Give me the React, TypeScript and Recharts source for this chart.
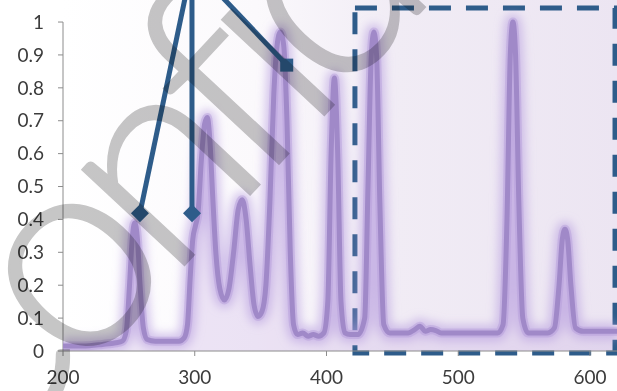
import React from "react";
import {
  ComposedChart,
  Line,
  Area,
  XAxis,
  YAxis,
  ReferenceArea,
  ReferenceLine
} from "recharts";

// spectrum (wavelength in nm, relative intensity)
const wavelength = [
  200, 215, 230, 240, 245, 248, 250.5, 252.5, 254.5, 256.5, 258.5, 261, 264, 270, 280, 288, 292,
  294.5, 296.5, 298.5, 300.5, 302.5, 305, 307.5, 309.5, 311.5, 313.5, 316, 319, 322.5, 326, 329.5,
  333, 336, 339, 342, 345, 348, 351, 354, 357, 360, 362.5, 365, 367.5, 370, 372.5, 375, 378, 382,
  386, 390, 394, 398, 401, 403.5, 406, 408.5, 411, 414, 418, 424, 429, 431.5, 434, 436, 438, 440.5,
  443.5, 448, 455, 462, 467, 471, 475, 479, 483, 487, 492, 500, 515, 530, 534, 537, 539.5, 541.5,
  543.5, 546, 549, 553, 560, 568, 573, 576.5, 579, 581, 583, 585.5, 589, 595, 605, 620.5
];
const intensity = [
  0.015, 0.015, 0.02, 0.025, 0.03, 0.06, 0.2, 0.34, 0.39, 0.34, 0.2, 0.07, 0.035, 0.03, 0.03, 0.03, 0.04,
  0.08, 0.22, 0.34, 0.38, 0.42, 0.58, 0.69, 0.71, 0.64, 0.48, 0.3, 0.19, 0.155, 0.19, 0.3,
  0.43, 0.46, 0.4, 0.26, 0.14, 0.105, 0.12, 0.2, 0.45, 0.78, 0.93, 0.97, 0.93, 0.7, 0.3, 0.08, 0.05, 0.055,
  0.045, 0.05, 0.045, 0.055, 0.15, 0.6, 0.83, 0.6, 0.15, 0.055, 0.05, 0.05, 0.1, 0.5, 0.9, 0.97, 0.9, 0.45,
  0.08, 0.055, 0.055, 0.055, 0.065, 0.075, 0.06, 0.065, 0.062, 0.055, 0.055, 0.055, 0.055, 0.055, 0.08, 0.4, 0.9, 1.0,
  0.9, 0.45, 0.1, 0.055, 0.055, 0.055, 0.07, 0.2, 0.34, 0.37, 0.34, 0.2, 0.07, 0.06, 0.06, 0.06
];

const xTicks = [200, 300, 400, 500, 600];
const yTicks = [0, 0.1, 0.2, 0.3, 0.4, 0.5, 0.6, 0.7, 0.8, 0.9, 1];

// pointer lines meet above the top edge
const pointerApex = { x: 297.9, y: 1.173 };
const pointerTips = [
  { x: 258.4, y: 0.419, mark: "diamond" },
  { x: 297.9, y: 0.419, mark: "diamond" },
  { x: 369.8, y: 0.869, mark: "square" }
];

// dashed box around the right part
const boxX = [421.6, 619];
const boxY = [-0.006, 1.043];

const watermark = "Confidential";

const spectrum = wavelength.map((x, i) => ({ x, y: intensity[i] }));

const BLUE = "#2e5c8a";
const AXIS = "#8c8c8c";

const tipDot = (mark: string) => (props: any) => {
  const { cx, cy, index } = props;
  if (index !== 0 || cx == null) return <g key={`d${index}`} />;
  if (mark === "square")
    return <rect key={`d${index}`} x={cx - 6.5} y={cy - 6.5} width={13} height={13} fill={BLUE} />;
  return (
    <path
      key={`d${index}`}
      d={`M${cx},${cy - 9}L${cx + 9},${cy}L${cx},${cy + 9}L${cx - 9},${cy}Z`}
      fill={BLUE}
    />
  );
};

export default function App() {
  const tick = { fontSize: 19, fill: "#3c3c3c", fontFamily: "Lato, 'Open Sans', sans-serif" };
  return (
    <div style={{ position: "absolute", left: 0, top: 0, width: 617, height: 391, background: "#fff" }}>
      <div
        style={{
          position: "absolute",
          left: 63,
          top: 0,
          width: 554,
          height: 351,
          background:
            "linear-gradient(90deg, #ffffff 0%, #fbf9fc 35%, #f1ecf5 60%, #ece5f2 100%)"
        }}
      />
      <ComposedChart
        width={617}
        height={391}
        data={spectrum}
        margin={{ top: 0, right: 0, left: 0, bottom: 0 }}
        style={{ position: "absolute", left: 0, top: 0 }}
      >
        <defs>
          <filter id="glow" x="-20%" y="-20%" width="140%" height="140%">
            <feGaussianBlur stdDeviation="5" />
          </filter>
        </defs>
        <XAxis
          dataKey="x"
          type="number"
          domain={[200, 620.5]}
          allowDataOverflow
          ticks={xTicks}
          height={40}
          tickSize={5}
          tickMargin={15}
          stroke={AXIS}
          tick={tick}
        />
        <YAxis
          type="number"
          domain={[0, 1.067]}
          allowDataOverflow
          ticks={yTicks}
          width={63}
          tickSize={5}
          tickMargin={14}
          axisLine={false}
          stroke={AXIS}
          tick={tick}
        />
        <ReferenceLine
          segment={[{ x: 200, y: 0 }, { x: 200, y: 1 }]}
          stroke={AXIS}
          ifOverflow="visible"
        />
        <Area
          dataKey="y"
          type="monotone"
          stroke="none"
          fill="#cdb8e6"
          fillOpacity={0.35}
          isAnimationActive={false}
        />
        <Line
          dataKey="y"
          type="monotone"
          stroke="#b89fe0"
          strokeWidth={16}
          strokeOpacity={0.6}
          strokeLinejoin="round"
          filter="url(#glow)"
          dot={false}
          isAnimationActive={false}
        />
        <Line
          dataKey="y"
          type="monotone"
          stroke="#b49bd9"
          strokeWidth={9}
          strokeOpacity={0.45}
          strokeLinejoin="round"
          dot={false}
          isAnimationActive={false}
        />
        <Line
          dataKey="y"
          type="monotone"
          stroke="#a089c8"
          strokeWidth={5}
          strokeLinejoin="round"
          dot={false}
          isAnimationActive={false}
        />
        <ReferenceArea
          x1={boxX[0]}
          x2={boxX[1]}
          y1={boxY[0]}
          y2={boxY[1]}
          fill="none"
          stroke={BLUE}
          strokeWidth={5}
          strokeDasharray="22 15"
          ifOverflow="visible"
        />
        {pointerTips.map((t, i) => (
          <Line
            key={i}
            data={[{ x: t.x, y: t.y }, { x: pointerApex.x, y: pointerApex.y }]}
            dataKey="y"
            type="linear"
            stroke={BLUE}
            strokeWidth={5}
            dot={tipDot(t.mark)}
            activeDot={false}
            isAnimationActive={false}
          />
        ))}
      </ComposedChart>
      <svg
        width={617}
        height={391}
        style={{ position: "absolute", left: 0, top: 0, pointerEvents: "none", mixBlendMode: "multiply" }}
      >
        <text
          x={-35}
          y={500}
          transform="rotate(-47 -35 500)"
          fontSize={280}
          fontWeight={300}
          letterSpacing={-22}
          fontFamily="Lato, 'Open Sans', sans-serif"
          fill="#c6c6c6"
          stroke="#c6c6c6"
          strokeWidth={2.5}
        >
          {watermark}
        </text>
      </svg>
    </div>
  );
}
